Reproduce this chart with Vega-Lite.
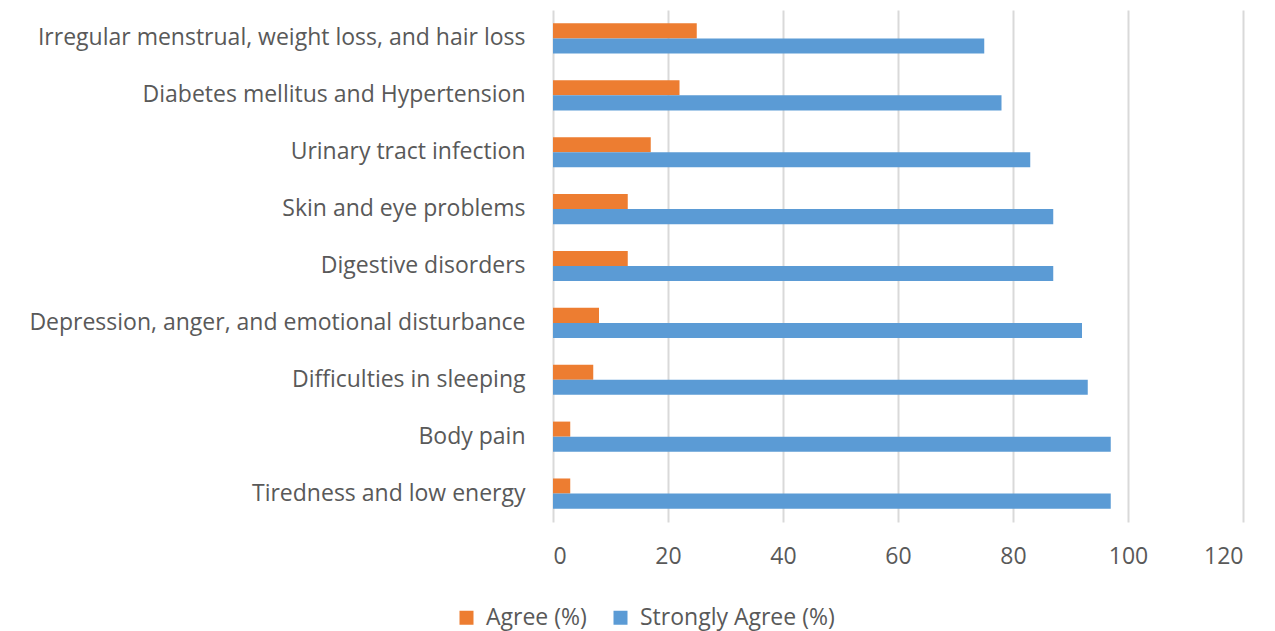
{
  "$schema": "https://vega.github.io/schema/vega-lite/v6.json",
  "width": 690,
  "height": 512,
  "autosize": {"type": "none"},
  "padding": {"left": 553, "top": 10, "right": 32, "bottom": 109},
  "background": "white",
  "data": {
    "values": [
      {"cat": "Irregular menstrual, weight loss, and hair loss", "series": "Agree (%)", "value": 25},
      {"cat": "Irregular menstrual, weight loss, and hair loss", "series": "Strongly Agree (%)", "value": 75},
      {"cat": "Diabetes mellitus and Hypertension", "series": "Agree (%)", "value": 22},
      {"cat": "Diabetes mellitus and Hypertension", "series": "Strongly Agree (%)", "value": 78},
      {"cat": "Urinary tract infection", "series": "Agree (%)", "value": 17},
      {"cat": "Urinary tract infection", "series": "Strongly Agree (%)", "value": 83},
      {"cat": "Skin and eye problems", "series": "Agree (%)", "value": 13},
      {"cat": "Skin and eye problems", "series": "Strongly Agree (%)", "value": 87},
      {"cat": "Digestive disorders", "series": "Agree (%)", "value": 13},
      {"cat": "Digestive disorders", "series": "Strongly Agree (%)", "value": 87},
      {"cat": "Depression, anger, and emotional disturbance", "series": "Agree (%)", "value": 8},
      {"cat": "Depression, anger, and emotional disturbance", "series": "Strongly Agree (%)", "value": 92},
      {"cat": "Difficulties in sleeping", "series": "Agree (%)", "value": 7},
      {"cat": "Difficulties in sleeping", "series": "Strongly Agree (%)", "value": 93},
      {"cat": "Body pain", "series": "Agree (%)", "value": 3},
      {"cat": "Body pain", "series": "Strongly Agree (%)", "value": 97},
      {"cat": "Tiredness and low energy", "series": "Agree (%)", "value": 3},
      {"cat": "Tiredness and low energy", "series": "Strongly Agree (%)", "value": 97}
    ]
  },
  "mark": {"type": "bar"},
  "encoding": {
    "y": {
      "field": "cat",
      "type": "nominal",
      "sort": null,
      "scale": {"paddingInner": 0.47, "paddingOuter": 0.235},
      "axis": {
        "title": null,
        "domain": false,
        "ticks": false,
        "labelPadding": 28,
        "labelFont": "Open Sans",
        "labelFontSize": 23,
        "labelColor": "#595959",
        "labelLimit": 600
      }
    },
    "yOffset": {
      "field": "series",
      "type": "nominal",
      "sort": ["Agree (%)", "Strongly Agree (%)"]
    },
    "x": {
      "field": "value",
      "type": "quantitative",
      "scale": {"domain": [0, 120], "nice": false},
      "axis": {
        "title": null,
        "values": [0, 20, 40, 60, 80, 100, 120],
        "domain": false,
        "ticks": false,
        "grid": true,
        "gridColor": "#D9D9D9",
        "gridWidth": 2,
        "labelPadding": 23,
        "labelFont": "Open Sans",
        "labelFontSize": 23,
        "labelColor": "#595959"
      }
    },
    "color": {
      "field": "series",
      "type": "nominal",
      "scale": {"domain": ["Agree (%)", "Strongly Agree (%)"], "range": ["#ED7D31", "#5B9BD5"]},
      "legend": {
        "title": null,
        "orient": "none",
        "direction": "horizontal",
        "legendX": -98,
        "legendY": 596,
        "symbolType": "square",
        "symbolSize": 196,
        "symbolStrokeWidth": 0,
        "labelFont": "Open Sans",
        "labelFontSize": 23,
        "labelColor": "#595959",
        "labelLimit": 400,
        "columnPadding": 22,
        "labelOffset": 8
      }
    }
  },
  "config": {"view": {"stroke": null}}
}
